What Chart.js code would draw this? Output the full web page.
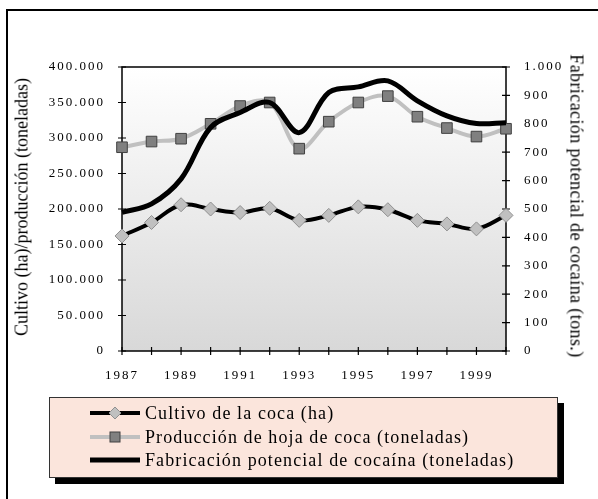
<!DOCTYPE html>
<html>
<head>
<meta charset="utf-8">
<script src="https://cdn.jsdelivr.net/npm/chart.js@4"></script>
<style>
  html, body { margin:0; padding:0; width:598px; height:499px; overflow:hidden; background:#fff; }
  #wrap { position:relative; width:598px; height:499px; }
  #frame { position:absolute; left:6px; top:9px; width:640px; height:540px; border:2px solid #000; box-sizing:border-box; }
  canvas { position:absolute; left:0; top:0; }
  .ytitle { position:absolute; white-space:nowrap; font-family:'Liberation Serif', serif; font-size:18px; color:#000; }
  #legend { position:absolute; left:49px; top:397px; width:509px; height:81px; box-sizing:border-box;
    background:#fbe5dc; border:1.5px solid #333; box-shadow:6px 6px 0 #000;
    font-family:'Liberation Serif', serif; font-size:18px; letter-spacing:1.1px; color:#000; }
  .row { position:absolute; left:40px; height:22px; display:flex; align-items:center; }
  .row svg { margin-right:5px; }
</style>
</head>
<body>
<div id="wrap">
  <div id="frame"></div>
  <canvas id="chart" width="598" height="499"></canvas>
  <div class="ytitle" style="left:22px;top:207px;transform:translate(-50%,-50%) rotate(-90deg);">Cultivo (ha)/producción (toneladas)</div>
  <div class="ytitle" style="left:576px;top:206px;letter-spacing:0.4px;transform:translate(-50%,-50%) rotate(90deg);">Fabricación potencial de cocaína (tons.)</div>
  <div id="legend">
    <div class="row" style="top:4px;">
      <svg width="50" height="16"><line x1="0" y1="8" x2="50" y2="8" stroke="#000" stroke-width="4"/><polygon points="25,2 31,8 25,14 19,8" fill="#c0c0c0" stroke="#909090" stroke-width="1"/></svg>
      <span>Cultivo de la coca (ha)</span>
    </div>
    <div class="row" style="top:28px;">
      <svg width="50" height="16"><line x1="0" y1="8" x2="50" y2="8" stroke="#c0c0c0" stroke-width="4"/><rect x="20" y="3" width="10" height="10" fill="#808080" stroke="#404040" stroke-width="1"/></svg>
      <span>Producción de hoja de coca (toneladas)</span>
    </div>
    <div class="row" style="top:51px;">
      <svg width="50" height="16"><line x1="0" y1="8" x2="50" y2="8" stroke="#000" stroke-width="5"/></svg>
      <span>Fabricación potencial de cocaína (toneladas)</span>
    </div>
  </div>
</div>
<script>
// data
const YEARS = ['1987','1988','1989','1990','1991','1992','1993','1994','1995','1996','1997','1998','1999','2000'];
const CULTIVO = [162000, 181000, 206000, 200000, 195000, 201000, 184000, 191000, 203000, 199000, 184000, 179000, 172000, 191000];
const PRODUCCION = [287000, 295000, 299000, 320000, 345000, 350000, 285000, 323000, 350000, 359000, 330000, 314000, 302000, 313000];
const FABRICACION = [488, 518, 606, 787, 840, 875, 769, 910, 930, 951, 881, 828, 801, 804];

function fmt(v){ return String(v).replace(/\B(?=(\d{3})+(?!\d))/g, '.'); }

// gradient plot background + border + ticks crossing the axes
const plotDeco = {
  id: 'plotDeco',
  beforeDraw(chart){ chart.ctx.letterSpacing = '2px'; },
  beforeDatasetsDraw(chart){
    const ctx = chart.ctx, a = chart.chartArea;
    ctx.save();
    const g = ctx.createLinearGradient(0, a.top, 0, a.bottom);
    g.addColorStop(0, '#ffffff');
    g.addColorStop(1, '#d8d8d8');
    ctx.fillStyle = g;
    ctx.fillRect(a.left, a.top, a.right - a.left, a.bottom - a.top);
    ctx.strokeStyle = '#000'; ctx.lineWidth = 1.5;
    ctx.strokeRect(a.left, a.top, a.right - a.left, a.bottom - a.top);
    ctx.lineWidth = 1.2;
    ctx.beginPath();
    const x = chart.scales.x, y = chart.scales.y, y2 = chart.scales.y2;
    x.ticks.forEach((t, i) => { const p = x.getPixelForTick(i); ctx.moveTo(p, a.bottom - 4); ctx.lineTo(p, a.bottom + 4); });
    y.ticks.forEach((t, i) => { const p = y.getPixelForTick(i); ctx.moveTo(a.left - 4, p); ctx.lineTo(a.left + 4, p); });
    y2.ticks.forEach((t, i) => { const p = y2.getPixelForTick(i); ctx.moveTo(a.right - 4, p); ctx.lineTo(a.right + 4, p); });
    ctx.stroke();
    ctx.restore();
  },
  afterDraw(chart){ chart.ctx.letterSpacing = '0px'; }
};

const tickFont = { family: "'Liberation Serif', serif", size: 13 };

new Chart(document.getElementById('chart').getContext('2d'), {
  type: 'line',
  data: {
    labels: YEARS,
    datasets: [
      { label: 'Cultivo de la coca (ha)', data: CULTIVO, yAxisID: 'y', order: 2,
        borderColor: '#000', borderWidth: 4, tension: 0.35,
        pointStyle: 'rectRot', pointRadius: 7, pointBackgroundColor: '#c0c0c0', pointBorderColor: '#909090', pointBorderWidth: 1 },
      { label: 'Producción de hoja de coca (toneladas)', data: PRODUCCION, yAxisID: 'y', order: 1,
        borderColor: '#c0c0c0', borderWidth: 4, tension: 0.35,
        pointStyle: 'rect', pointRadius: 7.5, pointBackgroundColor: '#808080', pointBorderColor: '#404040', pointBorderWidth: 1 },
      { label: 'Fabricación potencial de cocaína (toneladas)', data: FABRICACION, yAxisID: 'y2', order: 0,
        borderColor: '#000', borderWidth: 5, tension: 0.35, pointRadius: 0 }
    ]
  },
  options: {
    responsive: false,
    animation: false,
    devicePixelRatio: 1,
    layout: { padding: { top: 67, bottom: 118, left: 0, right: 0 } },
    plugins: { legend: { display: false }, tooltip: { enabled: false } },
    scales: {
      x: {
        offset: false,
        grid: { display: false }, border: { display: false },
        ticks: { color: '#000', font: tickFont, padding: 9, autoSkip: false, maxRotation: 0,
          callback: (v, i) => (i % 2 === 0 ? YEARS[i] : '') },
        afterFit: s => { s.height = 30; }
      },
      y: {
        position: 'left', min: 0, max: 400000,
        grid: { display: false }, border: { display: false },
        ticks: { stepSize: 50000, color: '#000', font: tickFont, padding: 9, callback: v => fmt(v) },
        afterFit: s => { s.width = 122; }
      },
      y2: {
        position: 'right', min: 0, max: 1000,
        grid: { display: false }, border: { display: false },
        ticks: { stepSize: 100, color: '#000', font: tickFont, padding: 10, callback: v => fmt(v) },
        afterFit: s => { s.width = 92; }
      }
    }
  },
  plugins: [plotDeco]
});
</script>
</body>
</html>
